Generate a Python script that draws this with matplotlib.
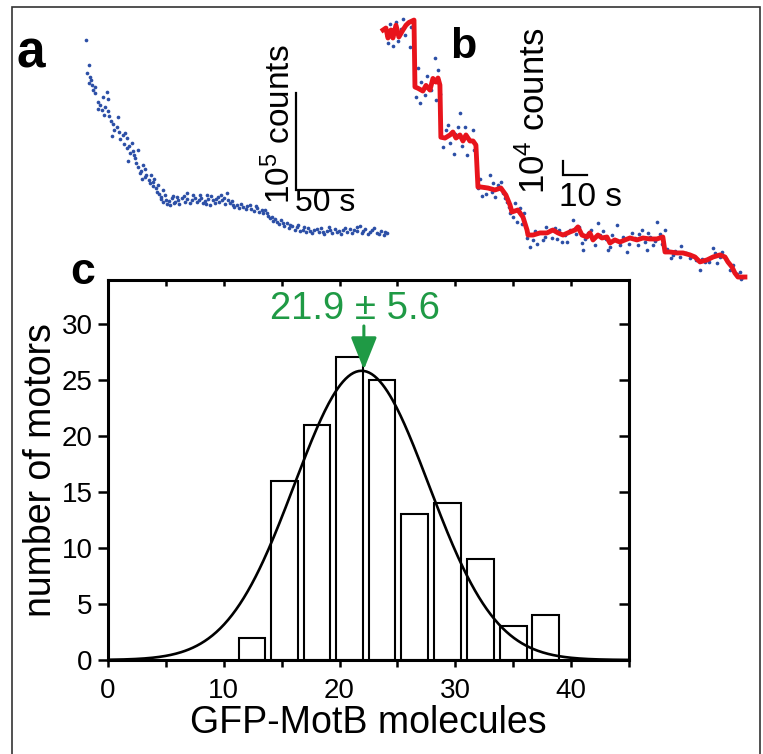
import numpy as np
import matplotlib.pyplot as plt
from matplotlib.patches import Rectangle

plt.rcParams['font.family'] = ['Liberation Sans', 'DejaVu Sans']

# ---- panel a: photobleach trace (t in s, counts in 10^3) ----
a_t = [0, 2.6, 1, 3.5, 2.6, 6.1, 7.9, 18.4, 14.9, 19.3, 10.5, 14, 19.3, 22, 28, 27, 22.8,
       32.5, 36, 40.4, 36, 38.6, 45.6, 36.8, 43, 50, 47.4, 51.8, 57, 49, 58.8, 63, 62.3,
       67.5, 69.3, 65.8, 71, 75.4, 79.8, 78, 84.2, 88.6, 91.2, 95.6, 100, 102.6, 106,
       108.8, 111.4, 115.8, 119.3, 123.7, 126.3, 129, 132.5, 137.7, 143.9, 150, 154.4,
       158.8, 161.4, 167.5, 172.8, 179, 185, 190.4, 196.5, 202.6, 208, 214, 220, 225.4,
       231.6, 237.7, 243, 249, 255, 262,
       4, 5, 8, 11, 12, 16, 17, 20, 24, 25, 29, 30, 33, 34, 38, 41, 42, 44, 46, 48, 52,
       53, 55, 56, 59, 60, 61,
       64, 66, 68, 70, 73, 74, 76, 77, 81, 82, 86, 87, 89, 93, 94, 97, 99, 101, 104, 105,
       107, 110, 113, 114, 117, 118, 121, 122, 125, 128, 130,
       134, 136, 140, 141, 145, 147, 149, 152, 155, 157, 160, 163, 164, 166, 169, 171,
       174, 176, 178, 181, 183, 186, 188, 191, 193, 195, 198, 200, 204, 206, 209, 211,
       213, 216, 218, 222, 224, 227, 229, 233, 235, 238, 240, 242, 245, 247, 251, 253,
       257, 259, 261, 264]
a_c = [227, 201, 193, 189, 182, 175, 172, 173, 168, 166, 156, 155, 154, 143, 147, 137, 128,
       129, 126, 121, 115, 110, 113, 102, 105, 98, 90, 86, 88, 84, 80, 77, 70,
       72, 67, 65, 58, 64, 65, 60, 64, 69, 59, 64, 67, 59, 67,
       57, 62, 65, 62, 69, 59, 57, 57, 55, 57, 54, 52,
       48, 43, 39, 38, 36, 34, 31, 30, 32, 29, 31, 29, 31,
       32, 34, 30, 29, 28, 29,
       186, 180, 178, 163, 160, 150, 158, 148, 140, 134, 132, 125, 120, 131, 118, 112, 108,
       100, 96, 92, 94, 88, 83, 79, 76, 84, 74,
       68, 63, 60, 62, 61, 57, 66, 59, 62, 58, 66, 60, 63, 62, 67, 60, 62, 64, 61, 58,
       63, 66, 59, 63, 60, 67, 64, 58, 62, 61, 55,
       54, 58, 53, 56, 53, 51, 56, 50, 49, 52, 45, 44, 40, 42, 37, 41,
       35, 38, 33, 35, 31, 36, 30, 34, 29, 33, 28, 31, 29, 33, 27, 30,
       34, 28, 32, 30, 27, 33, 29, 28, 31, 30, 35, 28, 32, 27, 31, 33,
       27, 30, 26, 28]

# ---- panel b: single motor trace with step fit (t in s, counts in 10^3) ----
b_fit_t = [-0.8, 0.4, 1.25, 2.5, 3.3, 4.6, 5.8, 7.5, 8.75, 10, 12.1, 12.5, 13.75, 15.8,
           17.1, 18.75, 20, 21.25, 22.1, 22.9, 23.3, 25, 27.1, 28.3, 29.6, 31.25, 32.5,
           33.75, 35.4, 36.7, 37.9, 38.75, 40, 42.9, 45.8, 48.3, 50.4, 52.1, 52.9, 55.4,
           57.5, 59.2, 59.6, 61.7, 64.6, 67.5, 70, 72.1, 74.2, 77.1, 79.2, 80.4, 82.1,
           84.2, 85.4, 86.7, 88.75, 90.4, 92.5, 93.75, 95.8, 97.9, 100, 102.1, 105, 107.5,
           110.4, 113.3, 115.8, 116.7, 118.75, 121.7, 124.2, 127.1, 129.2, 131.25, 134.2,
           136.7, 139.6, 141.7, 142.9, 144.6, 145.8, 147.1, 150]
b_fit_c = [178.6, 180, 172.9, 178.6, 172.9, 182, 173.6, 178.6, 182, 184, 185.7, 137.9, 137,
           135, 139, 135.7, 144, 141.4, 144.3, 139.3, 102, 101.4, 103.6, 105.7, 101.4,
           103.6, 99.3, 103.6, 99.3, 99.3, 96.4, 66.4, 66.4, 65.7, 64.3, 65.7, 60.7, 53.6,
           48.6, 50, 45, 35.7, 32.1, 32.1, 33.6, 33.6, 35.7, 33.6, 32.1, 34.3, 35.7, 37.9,
           32.1, 30.7, 33.6, 28.6, 32.1, 30, 30.7, 26.4, 28.6, 27.1, 28.6, 30, 28.6, 30,
           29.3, 29.3, 30.7, 20, 20, 19.3, 19.3, 17.9, 16.4, 12.9, 14.3, 16.4, 17.9, 16.4,
           12.9, 9.3, 5, 2.1, 2.1]
b_t = [1.25, 3.3, 4.6, 7.5, 10.4, 13.75, 20.8, 15, 16.7, 14.6, 21.25, 31.25, 26.25, 30.4,
       36.7, 28.75, 34.2, 38.75, 41.25, 43.75, 45, 42.1, 45.8, 48.3, 50.8, 50, 52.1, 55,
       56.25, 60.4, 61.7, 65.8, 68.75, 70.8, 73.75, 77.1, 78.3, 82.1, 82.5, 84.6, 88.75,
       89.6, 92.9, 93.75, 96.7, 97.9, 100.8, 102.9, 105.4, 107.1, 109.2, 109.6, 111.7,
       113.3, 116.7, 120, 122.9, 127.1, 131.25, 133.3, 136.7, 139.6, 143.75, 147.9, 149.2,
       0.8, 2, 5.5, 6.5, 8.5, 11, 13, 17.5, 19, 22, 23, 24, 25.5, 27, 29, 32, 33.5, 35, 37,
       39.5, 40.5, 44.5, 47, 49, 51.5, 53.5, 54, 57, 58, 59, 62.5, 63.5, 66.5, 67, 69.5,
       71.5, 72.5, 75, 76, 79.5, 81, 83.5, 86, 87.5, 91, 92, 94.5, 99, 101.5, 104, 106,
       108.5, 110.5, 112.5, 114.5, 115.5, 117.5, 119, 121, 123.5, 125.5, 128, 129.5, 132,
       135, 137.5, 138.5, 140.5, 142, 145, 146.5, 148.5]
b_c = [169.3, 167.1, 184.3, 186.4, 166.4, 151.4, 158.6, 141.4, 132.1, 126.4, 128.6, 119.3,
       110.7, 109.3, 107.1, 90, 89.3, 65.7, 66.4, 75, 69.3, 61.4, 59.3, 70, 55.7, 58.6,
       47.9, 41.4, 51.4, 23.6, 28.6, 28.6, 35.7, 37.1, 27.1, 35.7, 42.9, 26.4, 21.4, 33.6,
       40.7, 32.1, 21.4, 23.6, 39.3, 25, 20, 33.6, 25, 35.7, 21.4, 33.6, 25, 41.4, 35.7,
       17.9, 16.4, 15.7, 7.1, 12.9, 22.9, 16.4, 7.1, 5.7, 2.1,
       176, 183, 171, 179, 175, 181, 131, 146, 136, 150, 133, 95, 107, 98, 104, 96, 109,
       101, 93, 72, 60, 63, 68, 62, 52, 45, 55, 40, 48, 30, 35, 26, 31, 38, 30, 29, 36,
       32, 27, 33, 38, 29, 36, 25, 35, 29, 32, 31, 26, 30, 33, 27, 31, 28, 33, 26, 22, 16,
       21, 24, 19, 17, 14, 15, 13, 19, 12, 20, 15, 11, 4, 0.5]

# ---- panel c: histogram ----
bin_centers = [12.45, 15.25, 18.05, 20.85, 23.65, 26.5, 29.35, 32.15, 35.0, 37.8]
motors = [2, 16, 21, 27, 25, 13, 14, 9, 3, 4]
fit_mean, fit_sigma, fit_amp = 21.9, 5.8, 25.8

blue = '#2c4fa6'
red = '#e8141c'
green = '#1f9a45'

fig = plt.figure(figsize=(7.63, 7.54), dpi=100)
W, H = 763, 754

def px_axes(x0, y0, x1, y1):
    return fig.add_axes([x0 / W, 1 - y1 / H, (x1 - x0) / W, (y1 - y0) / H])

# outer frame
fig.add_artist(Rectangle((12 / W, -0.01), (760 - 12) / W, (754 - 7) / H + 0.01,
                         transform=fig.transFigure, fill=False, ec='#333333', lw=1.2))

# panel a
axa = px_axes(75, 25, 395, 245)
axa.scatter(a_t, a_c, s=7, color=blue, linewidths=0)
axa.set_xlim(-9.6, 271)
axa.set_ylim(15.5, 242.3)
axa.axis('off')
axa.plot([184.2, 184.2, 234.2], [172.2, 72.2, 72.2], color='black', lw=1.6,
         solid_joinstyle='miter')
axa.text(170, 140, r'$\mathregular{10^{5}}$ counts', rotation=90, fontsize=24,
         ha='center', va='center')
axa.text(210, 59, '50 s', fontsize=23, ha='center', va='center')
fig.text(31 / W, 1 - 54 / H, 'a', fontsize=37, fontweight='bold', ha='center', va='center')

# panel b
axb = px_axes(378, 10, 755, 285)
axb.scatter(b_t, b_c, s=7, color=blue, linewidths=0, zorder=1)
axb.plot(b_fit_t, b_fit_c, color=red, lw=3.5, zorder=2)
axb.set_xlim(-2.9, 154.2)
axb.set_ylim(-3.6, 192.9)
axb.axis('off')
axb.plot([74.2, 74.2, 84.2], [85, 75, 75], color='black', lw=1.6, solid_joinstyle='miter')
axb.text(62.5, 121, r'$\mathregular{10^{4}}$ counts', rotation=90, fontsize=25,
         ha='center', va='center')
axb.text(85.5, 58.6, '10 s', fontsize=24, ha='center', va='center')
fig.text(463 / W, 1 - 47 / H, 'b', fontsize=31, fontweight='bold', ha='center', va='center')

# panel c
axc = px_axes(108, 280, 629, 660)
axc.bar(bin_centers, motors, width=2.3, facecolor='white', edgecolor='black', lw=1.5)
xs = np.linspace(0, 45, 400)
axc.plot(xs, fit_amp * np.exp(-(xs - fit_mean) ** 2 / (2 * fit_sigma ** 2)),
         color='black', lw=1.9)
axc.set_xlim(0, 45)
axc.set_ylim(0, 33.9)
for s in axc.spines.values():
    s.set_linewidth(2.2)
axc.set_xticks(np.arange(0, 46, 5))
axc.set_xticklabels(['0', '', '10', '', '20', '', '30', '', '40', ''])
axc.set_yticks(np.arange(0, 31, 5))
axc.tick_params(axis='x', direction='out', length=5, width=1.8, labelsize=20, pad=8)
axc.tick_params(axis='y', direction='out', length=7, width=1.8, labelsize=20, pad=4)
top = axc.secondary_xaxis('top')
top.set_xticks(np.arange(5, 41, 5))
top.tick_params(direction='in', length=4, width=1.8, labeltop=False)
top.spines['top'].set_visible(False)
right = axc.secondary_yaxis('right')
right.set_yticks(np.arange(5, 31, 5))
right.tick_params(direction='in', length=7, width=1.8, labelright=False)
right.spines['right'].set_visible(False)
axc.set_xlabel('GFP-MotB molecules', fontsize=27, labelpad=1)
axc.set_ylabel('number of motors', fontsize=27, labelpad=2)

axc.annotate('', xy=(22.1, 25.9), xytext=(22.1, 29.8),
             arrowprops=dict(arrowstyle='-|>,head_length=0.8,head_width=0.32',
                             mutation_scale=25, color=green, lw=2.2, shrinkA=0, shrinkB=0))
axc.text(21.3, 30.45, '21.9 ± 5.6', color=green, fontsize=27.5, ha='center', va='baseline')
fig.text(83 / W, 1 - 272 / H, 'c', fontsize=32, fontweight='bold', ha='center', va='center')

fig.savefig('out.png', dpi=100)
